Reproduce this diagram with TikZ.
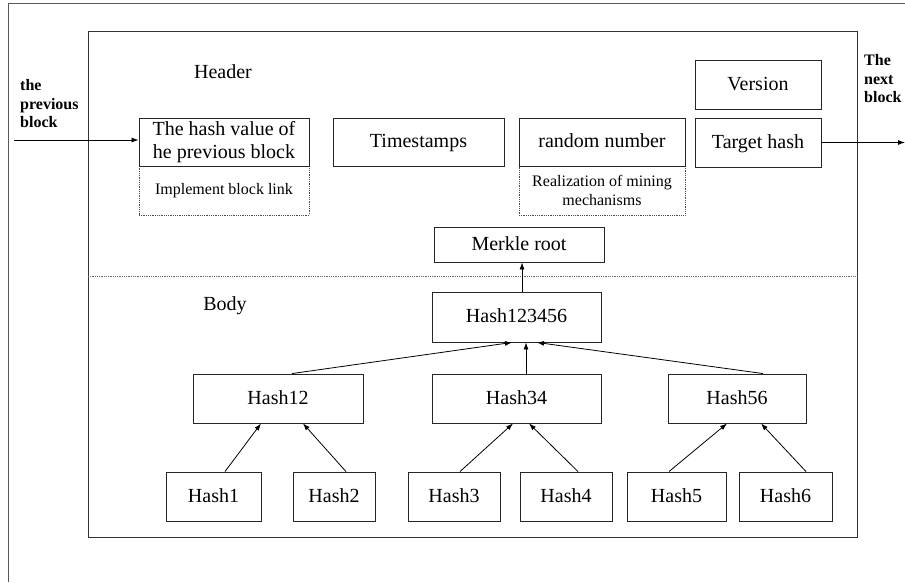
\documentclass[tikz,border=0pt]{standalone}
\usepackage{fontspec}
\setmainfont{Liberation Serif}
\usetikzlibrary{arrows.meta}
\begin{document}
\begin{tikzpicture}[x=1pt,y=-1pt,
  box/.style={draw=black!85,line width=0.9pt,inner sep=0pt,align=center,
    font=\fontsize{20}{23}\selectfont},
  onebox/.style={box,text height=15pt,text depth=3.5pt},
  notebox/.style={draw=black!70,densely dotted,line width=0.8pt,inner sep=0pt,align=center,
    font=\fontsize{16}{18.5}\selectfont},
  arr/.style={line width=0.8pt,-{Latex[length=7pt,width=5pt]}},
  side/.style={font=\bfseries\fontsize{16}{18.5}\selectfont,align=left,inner sep=0pt},
  part/.style={font=\fontsize{20}{23}\selectfont,inner sep=0pt}]
\useasboundingbox (0,0) rectangle (905,582);
% outer frame
\draw[black!65,line width=0.8pt] (905,3) -- (8,3) -- (8,582);
% block frame and header/body split
\draw[black!80,line width=0.9pt] (88,31) rectangle (857,537);
\draw[black!60,densely dotted,line width=0.8pt] (88,276) -- (857,276);
\node[part] (header) at (223,72) {Header};
\node[part] (body) at (225,306) {Body};
% header fields
\node[notebox,minimum width=170pt,minimum height=49pt] (link) at (224,190.5) {Implement block link};
\node[notebox,minimum width=166pt,minimum height=49pt] (mining) at (602,190.5) {Realization of mining\\mechanisms};
\node[box,fill=white,minimum width=170pt,minimum height=48pt] (prevhash) at (224,142) {The hash value of\\he previous block};
\node[onebox,minimum width=171pt,minimum height=48pt] (time) at (418.5,142) {Timestamps};
\node[onebox,fill=white,minimum width=166pt,minimum height=48pt] (nonce) at (602,142) {random number};
\node[onebox,minimum width=126pt,minimum height=49pt] (version) at (758,84.5) {Version};
\node[onebox,minimum width=126pt,minimum height=49pt] (target) at (758,142.5) {Target hash};
\node[onebox,minimum width=170pt,minimum height=35pt] (merkle) at (519,244.5) {Merkle root};
% links to neighbouring blocks
\node[side,anchor=west] (prevlbl) at (20,104) {the\\previous\\block};
\node[side,anchor=west] (nextlbl) at (864,79) {The\\next\\block};
\coordinate (previn) at (14,140);
\coordinate (nextout) at (905,143);
\draw[arr] (previn) -- (previn -| prevhash.west);
\draw[arr] (target.east) -- (target.east -| nextout);
% merkle tree
\node[onebox,minimum width=169pt,minimum height=50pt] (h123456) at (516.5,317) {Hash123456};
\node[onebox,minimum width=170pt,minimum height=49pt] (h12) at (278,398.5) {Hash12};
\node[onebox,minimum width=169pt,minimum height=49pt] (h34) at (516.5,398.5) {Hash34};
\node[onebox,minimum width=138pt,minimum height=49pt] (h56) at (737,398.5) {Hash56};
\node[onebox,minimum width=95pt,minimum height=49pt] (h1) at (213.5,496.5) {Hash1};
\node[onebox,minimum width=82pt,minimum height=49pt] (h2) at (334,496.5) {Hash2};
\node[onebox,minimum width=92pt,minimum height=49pt] (h3) at (454,496.5) {Hash3};
\node[onebox,minimum width=92pt,minimum height=49pt] (h4) at (566,496.5) {Hash4};
\node[onebox,minimum width=99pt,minimum height=49pt] (h5) at (676.5,496.5) {Hash5};
\node[onebox,minimum width=93pt,minimum height=49pt] (h6) at (785.5,496.5) {Hash6};
\draw[arr] ([xshift=11.5pt]h1.north) -- ([xshift=-17pt]h12.south);
\draw[arr] ([xshift=12pt]h2.north) -- ([xshift=25pt]h12.south);
\draw[arr] ([xshift=6pt]h3.north) -- ([xshift=-3.5pt]h34.south);
\draw[arr] ([xshift=12pt]h4.north) -- ([xshift=12.5pt]h34.south);
\draw[arr] ([xshift=-7.5pt]h5.north) -- ([xshift=-10pt]h56.south);
\draw[arr] ([xshift=20.5pt]h6.north) -- ([xshift=24pt]h56.south);
\draw[arr] ([xshift=14pt]h12.north) -- ([xshift=-4.5pt]h123456.south);
\draw[arr] ([xshift=9.5pt]h34.north) -- ([xshift=9.5pt]h123456.south);
\draw[arr] ([xshift=26pt]h56.north) -- ([xshift=20.5pt]h123456.south);
\draw[arr] ([xshift=5.5pt]h123456.north) -- ([xshift=3pt]merkle.south);
\end{tikzpicture}
\end{document}
